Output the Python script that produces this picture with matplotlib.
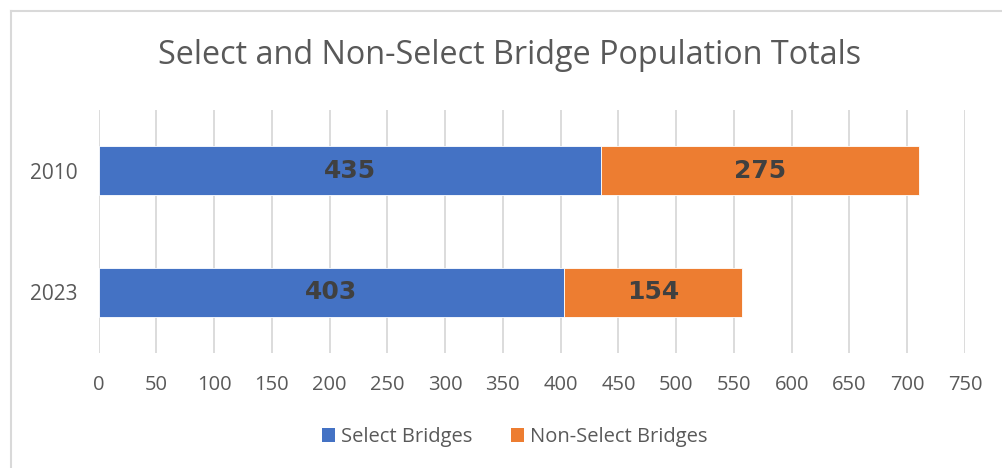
import matplotlib
matplotlib.use("Agg")
import matplotlib.pyplot as plt
from matplotlib.lines import Line2D
from matplotlib.patches import Patch

categories = ["2010", "2023"]
select_vals = [435, 403]
nonselect_vals = [275, 154]
series_names = ["Select Bridges", "Non-Select Bridges"]
xticks = list(range(0, 751, 50))

W, H = 1002, 468
fig = plt.figure(figsize=(W / 100, H / 100), dpi=100)
ax = fig.add_axes([98.5 / W, 1 - 353 / H, (965 - 98.5) / W, (353 - 110) / H])

txt = "#595959"
font = "Open Sans"
blue, orange = "#4472C4", "#ED7D31"

y = list(range(len(categories)))
b1 = ax.barh(y, select_vals, height=0.4, color=blue, edgecolor="white", linewidth=0.6, zorder=3)
b2 = ax.barh(y, nonselect_vals, left=select_vals, height=0.4, color=orange, edgecolor="white", linewidth=0.6, zorder=3)

for bars, vals, lefts in [(b1, select_vals, [0, 0]), (b2, nonselect_vals, select_vals)]:
    for i, (v, l) in enumerate(zip(vals, lefts)):
        ax.text(l + v / 2, i, str(v), ha="center", va="center", fontsize=18,
                fontweight="bold", color="#404040", family="DejaVu Sans", zorder=4)

ax.set_xlim(0, 750)
ax.set_ylim(1.5, -0.5)
ax.set_xticks(xticks)
ax.set_xticklabels([str(t) for t in xticks], fontsize=14.5, color=txt, family=font)
ax.set_yticks(y)
ax.set_yticklabels(categories, fontsize=15, color=txt, family=font)
ax.tick_params(axis="both", length=0)
ax.tick_params(axis="x", pad=16)
ax.tick_params(axis="y", pad=15)
ax.grid(axis="x", color="#D9D9D9", linewidth=1.3, zorder=0)
for s in ax.spines.values():
    s.set_visible(False)

fig.text(510 / W, 1 - 56 / H, "Select and Non-Select Bridge Population Totals",
         ha="center", va="center", fontsize=23.3, color=txt, family=font)

handles = [Patch(facecolor=blue), Patch(facecolor=orange)]
fig.legend(handles, series_names, loc="center", bbox_to_anchor=(515 / W, 1 - 437 / H),
           ncol=2, frameon=False, handlelength=0.65, handleheight=0.65,
           handletextpad=0.3, columnspacing=1.9, prop={"family": font, "size": 14.5},
           labelcolor=txt)

fig.add_artist(Line2D([10.5 / W, 1], [1 - 10.5 / H, 1 - 10.5 / H], color="#D9D9D9", linewidth=1.5))
fig.add_artist(Line2D([10.5 / W, 10.5 / W], [0, 1 - 10.5 / H], color="#D9D9D9", linewidth=1.5))

fig.savefig("out.png", dpi=100)
